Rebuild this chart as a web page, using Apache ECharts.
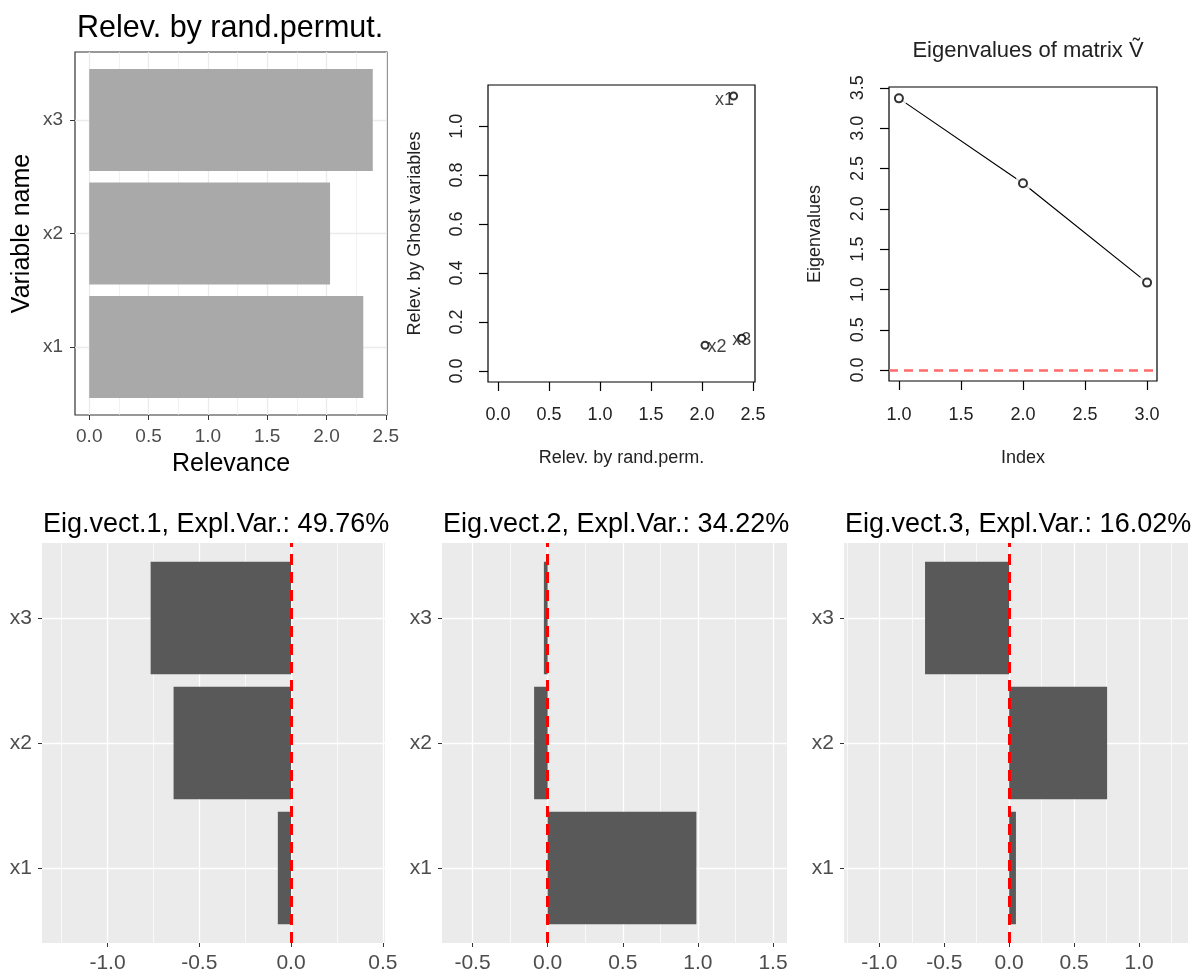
<!DOCTYPE html>
<html><head><meta charset="utf-8">
<script src="https://cdn.jsdelivr.net/npm/echarts@6/dist/echarts.min.js"></script>
<style>html,body{margin:0;padding:0;background:#fff}#c{width:1200px;height:978px}</style>
</head><body><div id="c"></div>
<script>
// ---------------- data ----------------
const variables = ['x1', 'x2', 'x3'];
const relevPermut = [2.31, 2.03, 2.39];
const relevGhost = [1.123, 0.105, 0.134];
const eigenIndex = [1, 2, 3];
const eigenvalues = [3.369, 2.317, 1.085];
const eigVect1 = [-0.072, -0.640, -0.765];
const eigVect2 = [0.990, -0.090, -0.025];
const eigVect3 = [0.052, 0.754, -0.648];
const explVar = ['49.76%', '34.22%', '16.02%'];

const relevTicks = [0, 0.5, 1, 1.5, 2, 2.5];
const relevMinor = [0.25, 0.75, 1.25, 1.75, 2.25];
const scatterXTicks = [0, 0.5, 1, 1.5, 2, 2.5];
const scatterYTicks = [0, 0.2, 0.4, 0.6, 0.8, 1.0];
const eigenXTicks = [1, 1.5, 2, 2.5, 3];
const eigenYTicks = [0, 0.5, 1, 1.5, 2, 2.5, 3, 3.5];
const vect1Ticks = [-1, -0.5, 0, 0.5];
const vect1Minor = [-1.25, -0.75, -0.25, 0.25];
const vect2Ticks = [-0.5, 0, 0.5, 1, 1.5];
const vect2Minor = [-0.25, 0.25, 0.75, 1.25];
const vect3Ticks = [-1, -0.5, 0, 0.5, 1];
const vect3Minor = [-1.25, -0.75, -0.25, 0.25, 0.75, 1.25];
const catTicks = [1, 2, 3];

// ---------------- helpers ----------------
const FONT = '"Liberation Sans", Arial, sans-serif';
const fmt1 = v => v.toFixed(1);
const catFmt = v => variables[Math.round(v) - 1];

function ggXAxes(gi, min, max, major, minor, lineColor, opts) {
  return [
    {
      type: 'value', gridIndex: gi, min, max, position: 'bottom',
      axisLine: { show: false, onZero: false },
      axisTick: { show: true, customValues: major, length: opts.tickLen, lineStyle: { color: '#333333', width: 1 } },
      axisLabel: { customValues: major, formatter: fmt1, color: '#4D4D4D', fontSize: opts.labelSize, fontFamily: FONT, margin: opts.labelMargin },
      splitLine: { show: true, lineStyle: { color: lineColor, width: 1.3 } },
      name: opts.name || '', nameLocation: 'middle', nameGap: opts.nameGap || 0,
      nameTextStyle: { color: '#000', fontSize: opts.nameSize || 12, fontFamily: FONT }
    },
    {
      type: 'value', gridIndex: gi, min, max, position: 'top',
      axisLine: { show: false, onZero: false },
      axisTick: { show: false, customValues: minor },
      axisLabel: { show: false, customValues: minor },
      splitLine: { show: true, lineStyle: { color: lineColor, width: 0.7 } }
    }
  ];
}

function ggYAxis(gi, lineColor, opts) {
  return {
    type: 'value', gridIndex: gi, min: 0.4, max: 3.6, position: 'left',
    axisLine: { show: false, onZero: false },
    axisTick: { show: true, customValues: catTicks, length: opts.tickLen, lineStyle: { color: '#333333', width: 1 } },
    axisLabel: { customValues: catTicks, formatter: catFmt, color: '#4D4D4D', fontSize: opts.labelSize, fontFamily: FONT, margin: opts.labelMargin },
    splitLine: { show: true, lineStyle: { color: lineColor, width: 1.3 } },
    name: opts.name || '', nameLocation: 'middle', nameGap: opts.nameGap || 0, nameRotate: 90,
    nameTextStyle: { color: '#000', fontSize: opts.nameSize || 12, fontFamily: FONT }
  };
}

function barSeries(xi, yi, values, color, zeroLine) {
  const s = {
    type: 'custom', xAxisIndex: xi, yAxisIndex: yi, silent: true, z: 3,
    data: values.map((v, i) => [v, i + 1]),
    encode: { x: 0, y: 1 },
    renderItem: (params, api) => {
      const v = api.value(0), c = api.value(1);
      const a = api.coord([0, c - 0.45]);
      const b = api.coord([v, c + 0.45]);
      return {
        type: 'rect',
        shape: { x: Math.min(a[0], b[0]), y: Math.min(a[1], b[1]), width: Math.abs(b[0] - a[0]), height: Math.abs(b[1] - a[1]) },
        style: { fill: color }
      };
    }
  };
  if (zeroLine) {
    s.markLine = {
      silent: true, symbol: 'none', label: { show: false }, animation: false, z: 5,
      lineStyle: { color: '#FF0000', type: [11, 7], width: 3 },
      data: [{ xAxis: 0 }]
    };
  }
  return s;
}

function rXAxis(gi, min, max, ticks, name, nameGap, margin) {
  return {
    type: 'value', gridIndex: gi, min, max, position: 'bottom',
    axisLine: { show: false, onZero: false },
    axisTick: { show: true, customValues: ticks, length: 9, lineStyle: { color: '#000', width: 1.2 } },
    axisLabel: { customValues: ticks, formatter: fmt1, color: '#222', fontSize: 18, fontFamily: FONT, margin },
    splitLine: { show: false },
    name, nameLocation: 'middle', nameGap,
    nameTextStyle: { color: '#222', fontSize: 18, fontFamily: FONT }
  };
}
function rYAxis(gi, min, max, ticks, name, nameGap, margin) {
  return {
    type: 'value', gridIndex: gi, min, max, position: 'left',
    axisLine: { show: false, onZero: false },
    axisTick: { show: true, customValues: ticks, length: 9, lineStyle: { color: '#000', width: 1.2 } },
    axisLabel: { customValues: ticks, formatter: fmt1, color: '#222', fontSize: 18, fontFamily: FONT, margin, rotate: 90 },
    splitLine: { show: false },
    name, nameLocation: 'middle', nameGap, nameRotate: 90,
    nameTextStyle: { color: '#222', fontSize: 18, fontFamily: FONT }
  };
}

// ---------------- option ----------------
const bwOpts = { tickLen: 5, labelSize: 19, labelMargin: 12 };
const grOpts = { tickLen: 4, labelSize: 21, labelMargin: 10 };
const eigenPoints = eigenIndex.map((x, i) => [x, eigenvalues[i]]);

const option = {
  animation: false,
  backgroundColor: '#ffffff',
  title: [
    { text: 'Relev. by rand.permut.', left: 72, top: 8, textStyle: { fontSize: 30.5, fontWeight: 'normal', color: '#000', fontFamily: FONT } },
    { text: 'Eigenvalues of matrix V\u0303', left: 1023, top: 35, textAlign: 'center', textStyle: { fontSize: 22, fontWeight: 'normal', color: '#222', fontFamily: FONT } },
    { text: 'Eig.vect.1, Expl.Var.: ' + explVar[0], left: 38, top: 506, textStyle: { fontSize: 27, fontWeight: 'normal', color: '#000', fontFamily: FONT } },
    { text: 'Eig.vect.2, Expl.Var.: ' + explVar[1], left: 438, top: 506, textStyle: { fontSize: 27, fontWeight: 'normal', color: '#000', fontFamily: FONT } },
    { text: 'Eig.vect.3, Expl.Var.: ' + explVar[2], left: 840, top: 506, textStyle: { fontSize: 27, fontWeight: 'normal', color: '#000', fontFamily: FONT } }
  ],
  grid: [
    { left: 75, top: 52, width: 312, height: 363, show: true, backgroundColor: '#fff', borderColor: '#333333', borderWidth: 1.2 },
    { left: 488, top: 85, width: 267, height: 297, show: true, backgroundColor: '#fff', borderColor: '#000', borderWidth: 1.2 },
    { left: 889, top: 87, width: 268, height: 294, show: true, backgroundColor: '#fff', borderColor: '#000', borderWidth: 1.2 },
    { left: 42, top: 543, width: 343, height: 400, show: true, backgroundColor: '#EBEBEB', borderWidth: 0 },
    { left: 442, top: 543, width: 345, height: 400, show: true, backgroundColor: '#EBEBEB', borderWidth: 0 },
    { left: 844, top: 543, width: 344, height: 400, show: true, backgroundColor: '#EBEBEB', borderWidth: 0 }
  ],
  xAxis: [
    ...ggXAxes(0, -0.12, 2.51, relevTicks, relevMinor, '#EBEBEB', Object.assign({ name: 'Relevance', nameGap: 37, nameSize: 25 }, bwOpts)),
    rXAxis(1, -0.097, 2.52, scatterXTicks, 'Relev. by rand.perm.', 67, 24),
    rXAxis(2, 0.92, 3.08, eigenXTicks, 'Index', 68, 25),
    ...ggXAxes(3, -1.357, 0.512, vect1Ticks, vect1Minor, '#FFFFFF', grOpts),
    ...ggXAxes(4, -0.703, 1.593, vect2Ticks, vect2Minor, '#FFFFFF', grOpts),
    ...ggXAxes(5, -1.272, 1.377, vect3Ticks, vect3Minor, '#FFFFFF', grOpts)
  ],
  yAxis: [
    ggYAxis(0, '#EBEBEB', Object.assign({ name: 'Variable name', nameGap: 40, nameSize: 25 }, bwOpts)),
    rYAxis(1, -0.045, 1.168, scatterYTicks, 'Relev. by Ghost variables', 64, 22),
    rYAxis(2, -0.135, 3.51, eigenYTicks, 'Eigenvalues', 65, 22),
    ggYAxis(3, '#FFFFFF', grOpts),
    ggYAxis(4, '#FFFFFF', grOpts),
    ggYAxis(5, '#FFFFFF', grOpts)
  ],
  series: [
    barSeries(0, 0, relevPermut, '#A9A9A9', false),
    {
      type: 'scatter', xAxisIndex: 2, yAxisIndex: 1, silent: true,
      symbol: 'emptyCircle', symbolSize: 7,
      itemStyle: { color: '#000', borderColor: '#000', borderWidth: 1.2 },
      data: variables.map((n, i) => ({
        value: [relevPermut[i], relevGhost[i], n],
        label: { offset: [[-9, 4], [12, 2], [0, 2]][i] }
      })),
      label: { show: true, position: 'inside', formatter: p => p.data.value[2], color: '#111', fontSize: 18, fontFamily: FONT }
    },
    {
      type: 'line', xAxisIndex: 3, yAxisIndex: 2, silent: true, z: 2,
      data: eigenPoints,
      symbol: 'none',
      lineStyle: { color: '#000', width: 1.2 },
      markLine: {
        silent: true, symbol: 'none', label: { show: false }, animation: false,
        lineStyle: { color: '#FF6B6B', type: [9, 6], width: 2.5 },
        data: [{ yAxis: 0 }]
      }
    },
    {
      type: 'scatter', xAxisIndex: 3, yAxisIndex: 2, silent: true, z: 3,
      data: eigenPoints, symbol: 'circle', symbolSize: 17,
      itemStyle: { color: '#FFFFFF', borderWidth: 0 }
    },
    {
      type: 'scatter', xAxisIndex: 3, yAxisIndex: 2, silent: true, z: 4,
      data: eigenPoints, symbol: 'emptyCircle', symbolSize: 8,
      itemStyle: { color: '#000', borderColor: '#000', borderWidth: 1.5 }
    },
    barSeries(4, 3, eigVect1, '#595959', true),
    barSeries(6, 4, eigVect2, '#595959', true),
    barSeries(8, 5, eigVect3, '#595959', true)
  ]
};

const chart = echarts.init(document.getElementById('c'), null, { renderer: 'canvas' });
chart.setOption(option);
</script>
</body></html>
